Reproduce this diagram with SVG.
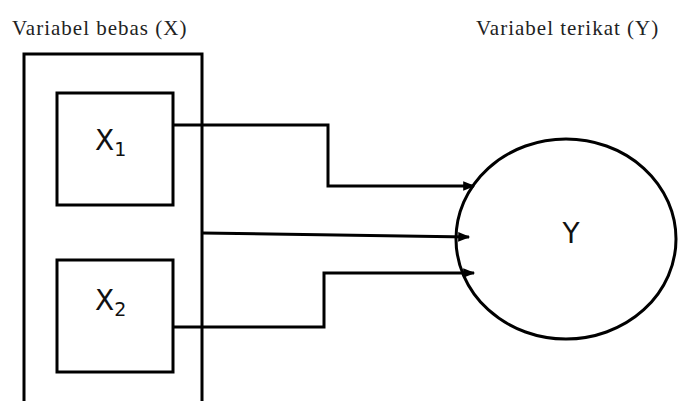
<svg xmlns="http://www.w3.org/2000/svg" width="678" height="401" viewBox="0 0 678 401">
<style>
.box{fill:none;stroke:#000;stroke-width:3}
.ln{fill:none;stroke:#000;stroke-width:3}
.lbl{font-family:"Liberation Serif",serif;font-size:21px;letter-spacing:1px;fill:#222}
.nl{font-family:"DejaVu Sans","Liberation Sans",sans-serif;font-size:28px;fill:#111}
.sub{font-size:19px}
</style>
<defs>
<marker id="ah" viewBox="0 0 10 10" refX="9" refY="5" markerWidth="4.5" markerHeight="4" orient="auto" markerUnits="strokeWidth">
<path d="M0,1 L10,5 L0,9 z" fill="#000"/>
</marker>
</defs>
<rect width="678" height="401" fill="#fff"/>
<text class="lbl" x="12" y="35">Variabel bebas (X)</text>
<text class="lbl" x="476" y="35">Variabel terikat (Y)</text>
<g id="groupX">
<path class="box" d="M24,402 V54 H202 V402"/>
</g>
<g id="X1">
<rect class="box" x="57" y="93" width="116" height="112"/>
<text class="nl" x="95" y="150">X<tspan class="sub" dy="6">1</tspan></text>
</g>
<g id="X2">
<rect class="box" x="57" y="260" width="116" height="112"/>
<text class="nl" x="95" y="310">X<tspan class="sub" dy="6">2</tspan></text>
</g>
<g id="Y">
<ellipse class="box" cx="566" cy="239" rx="110" ry="100"/>
<text class="nl" x="571" y="243" text-anchor="middle">Y</text>
</g>
<g id="connectors">
<path class="ln" d="M173,125 H328 V186 H474" marker-end="url(#ah)"/>
<path class="ln" d="M202,233 L469,237" marker-end="url(#ah)"/>
<path class="ln" d="M173,327 H324 V273 H474" marker-end="url(#ah)"/>
</g>
</svg>
